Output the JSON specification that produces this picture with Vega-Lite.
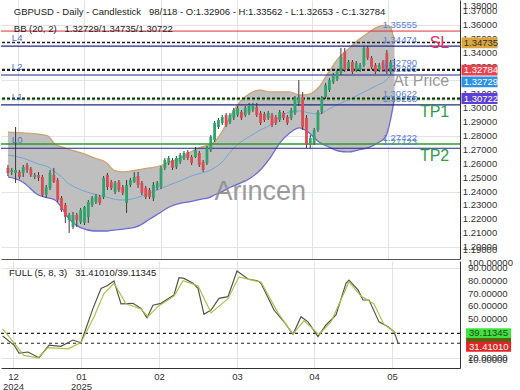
{
  "$schema": "https://vega.github.io/schema/vega-lite/v6.json",
  "padding": 0,
  "background": "white",
  "spacing": 2,
  "bounds": "flush",
  "config": {
    "view": {"stroke": null},
    "font": "Liberation Sans",
    "text": {"font": "Liberation Sans"},
    "axis": {"labelFont": "Liberation Sans", "labelFontSize": 9.5, "labelColor": "#333333", "gridColor": "#e3e3e3", "gridWidth": 1, "domainColor": "#444444", "ticks": false, "title": null}
  },
  "datasets": {
    "candles": [
      {"t":0.5,"o":1.2570,"h":1.2591,"l":1.2512,"c":1.2534},
      {"t":1.5,"o":1.2541,"h":1.2570,"l":1.2519,"c":1.2555},
      {"t":2.5,"o":1.2534,"h":1.2865,"l":1.2462,"c":1.2555},
      {"t":3.5,"o":1.2541,"h":1.2555,"l":1.2490,"c":1.2505},
      {"t":4.5,"o":1.2534,"h":1.2591,"l":1.2505,"c":1.2577},
      {"t":5.5,"o":1.2591,"h":1.2606,"l":1.2534,"c":1.2555},
      {"t":6.5,"o":1.2562,"h":1.2577,"l":1.2505,"c":1.2519},
      {"t":7.5,"o":1.2505,"h":1.2534,"l":1.2490,"c":1.2519},
      {"t":8.5,"o":1.2519,"h":1.2541,"l":1.2476,"c":1.2498},
      {"t":9.5,"o":1.2505,"h":1.2519,"l":1.2361,"c":1.2375},
      {"t":10.5,"o":1.2375,"h":1.2447,"l":1.2354,"c":1.2433},
      {"t":11.5,"o":1.2426,"h":1.2555,"l":1.2411,"c":1.2534},
      {"t":12.5,"o":1.2519,"h":1.2570,"l":1.2462,"c":1.2469},
      {"t":13.5,"o":1.2483,"h":1.2498,"l":1.2325,"c":1.2339},
      {"t":14.5,"o":1.2354,"h":1.2368,"l":1.2253,"c":1.2267},
      {"t":15.5,"o":1.2303,"h":1.2318,"l":1.2174,"c":1.2217},
      {"t":16.5,"o":1.2195,"h":1.2246,"l":1.2102,"c":1.2231},
      {"t":17.5,"o":1.2145,"h":1.2253,"l":1.2130,"c":1.2231},
      {"t":18.5,"o":1.2231,"h":1.2246,"l":1.2145,"c":1.2195},
      {"t":19.5,"o":1.2181,"h":1.2282,"l":1.2166,"c":1.2267},
      {"t":20.5,"o":1.2174,"h":1.2296,"l":1.2159,"c":1.2289},
      {"t":21.5,"o":1.2217,"h":1.2339,"l":1.2174,"c":1.2325},
      {"t":22.5,"o":1.2303,"h":1.2368,"l":1.2289,"c":1.2354},
      {"t":23.5,"o":1.2325,"h":1.2382,"l":1.2310,"c":1.2368},
      {"t":24.5,"o":1.2361,"h":1.2375,"l":1.2303,"c":1.2318},
      {"t":25.5,"o":1.2361,"h":1.2512,"l":1.2346,"c":1.2498},
      {"t":26.5,"o":1.2519,"h":1.2534,"l":1.2411,"c":1.2433},
      {"t":27.5,"o":1.2469,"h":1.2483,"l":1.2411,"c":1.2426},
      {"t":28.5,"o":1.2397,"h":1.2476,"l":1.2382,"c":1.2462},
      {"t":29.5,"o":1.2469,"h":1.2483,"l":1.2397,"c":1.2411},
      {"t":30.5,"o":1.2433,"h":1.2447,"l":1.2375,"c":1.2390},
      {"t":31.5,"o":1.2318,"h":1.2483,"l":1.2246,"c":1.2447},
      {"t":32.5,"o":1.2447,"h":1.2498,"l":1.2433,"c":1.2483},
      {"t":33.5,"o":1.2469,"h":1.2541,"l":1.2462,"c":1.2505},
      {"t":34.5,"o":1.2512,"h":1.2541,"l":1.2426,"c":1.2447},
      {"t":35.5,"o":1.2462,"h":1.2476,"l":1.2375,"c":1.2390},
      {"t":36.5,"o":1.2426,"h":1.2440,"l":1.2346,"c":1.2361},
      {"t":37.5,"o":1.2411,"h":1.2426,"l":1.2346,"c":1.2361},
      {"t":38.5,"o":1.2354,"h":1.2469,"l":1.2332,"c":1.2447},
      {"t":39.5,"o":1.2426,"h":1.2476,"l":1.2411,"c":1.2462},
      {"t":40.5,"o":1.2433,"h":1.2584,"l":1.2418,"c":1.2570},
      {"t":41.5,"o":1.2570,"h":1.2642,"l":1.2555,"c":1.2627},
      {"t":42.5,"o":1.2606,"h":1.2656,"l":1.2591,"c":1.2642},
      {"t":43.5,"o":1.2627,"h":1.2642,"l":1.2555,"c":1.2570},
      {"t":44.5,"o":1.2577,"h":1.2656,"l":1.2562,"c":1.2642},
      {"t":45.5,"o":1.2613,"h":1.2678,"l":1.2598,"c":1.2663},
      {"t":46.5,"o":1.2642,"h":1.2692,"l":1.2627,"c":1.2678},
      {"t":47.5,"o":1.2685,"h":1.2699,"l":1.2627,"c":1.2642},
      {"t":48.5,"o":1.2649,"h":1.2663,"l":1.2591,"c":1.2606},
      {"t":49.5,"o":1.2649,"h":1.2721,"l":1.2642,"c":1.2699},
      {"t":50.5,"o":1.2678,"h":1.2692,"l":1.2577,"c":1.2591},
      {"t":51.5,"o":1.2613,"h":1.2627,"l":1.2541,"c":1.2555},
      {"t":52.5,"o":1.2606,"h":1.2728,"l":1.2591,"c":1.2714},
      {"t":53.5,"o":1.2699,"h":1.2807,"l":1.2685,"c":1.2793},
      {"t":54.5,"o":1.2771,"h":1.2908,"l":1.2757,"c":1.2894},
      {"t":55.5,"o":1.2865,"h":1.2930,"l":1.2850,"c":1.2915},
      {"t":56.5,"o":1.2894,"h":1.2951,"l":1.2879,"c":1.2937},
      {"t":57.5,"o":1.2951,"h":1.2966,"l":1.2865,"c":1.2879},
      {"t":58.5,"o":1.2901,"h":1.2966,"l":1.2886,"c":1.2951},
      {"t":59.5,"o":1.2930,"h":1.3002,"l":1.2915,"c":1.2987},
      {"t":60.5,"o":1.2951,"h":1.3016,"l":1.2937,"c":1.3002},
      {"t":61.5,"o":1.2973,"h":1.2987,"l":1.2915,"c":1.2930},
      {"t":62.5,"o":1.2951,"h":1.3016,"l":1.2937,"c":1.3002},
      {"t":63.5,"o":1.2966,"h":1.3038,"l":1.2951,"c":1.3023},
      {"t":64.5,"o":1.2987,"h":1.3038,"l":1.2973,"c":1.3023},
      {"t":65.5,"o":1.3009,"h":1.3038,"l":1.2937,"c":1.2951},
      {"t":66.5,"o":1.2966,"h":1.2980,"l":1.2879,"c":1.2894},
      {"t":67.5,"o":1.2958,"h":1.2973,"l":1.2901,"c":1.2915},
      {"t":68.5,"o":1.2930,"h":1.2980,"l":1.2915,"c":1.2966},
      {"t":69.5,"o":1.2951,"h":1.2966,"l":1.2865,"c":1.2879},
      {"t":70.5,"o":1.2937,"h":1.2951,"l":1.2879,"c":1.2894},
      {"t":71.5,"o":1.2915,"h":1.2987,"l":1.2901,"c":1.2973},
      {"t":72.5,"o":1.2966,"h":1.2980,"l":1.2915,"c":1.2930},
      {"t":73.5,"o":1.2937,"h":1.2951,"l":1.2879,"c":1.2894},
      {"t":74.5,"o":1.2930,"h":1.3002,"l":1.2915,"c":1.2987},
      {"t":75.5,"o":1.2966,"h":1.3088,"l":1.2951,"c":1.3074},
      {"t":76.5,"o":1.3038,"h":1.3203,"l":1.3016,"c":1.3081},
      {"t":77.5,"o":1.3081,"h":1.3117,"l":1.2843,"c":1.2865},
      {"t":78.5,"o":1.2930,"h":1.2951,"l":1.2714,"c":1.2735},
      {"t":79.5,"o":1.2735,"h":1.2807,"l":1.2714,"c":1.2786},
      {"t":80.5,"o":1.2750,"h":1.2858,"l":1.2735,"c":1.2843},
      {"t":81.5,"o":1.2843,"h":1.2987,"l":1.2829,"c":1.2973},
      {"t":82.5,"o":1.2973,"h":1.3088,"l":1.2958,"c":1.3074},
      {"t":83.5,"o":1.3081,"h":1.3182,"l":1.3066,"c":1.3167},
      {"t":84.5,"o":1.3131,"h":1.3218,"l":1.3117,"c":1.3203},
      {"t":85.5,"o":1.3189,"h":1.3254,"l":1.3174,"c":1.3239},
      {"t":86.5,"o":1.3210,"h":1.3275,"l":1.3196,"c":1.3261},
      {"t":87.5,"o":1.3254,"h":1.3434,"l":1.3239,"c":1.3369},
      {"t":88.5,"o":1.3405,"h":1.3434,"l":1.3261,"c":1.3275},
      {"t":89.5,"o":1.3290,"h":1.3347,"l":1.3275,"c":1.3333},
      {"t":90.5,"o":1.3333,"h":1.3347,"l":1.3246,"c":1.3261},
      {"t":91.5,"o":1.3275,"h":1.3340,"l":1.3261,"c":1.3326},
      {"t":92.5,"o":1.3275,"h":1.3326,"l":1.3261,"c":1.3311},
      {"t":93.5,"o":1.3311,"h":1.3448,"l":1.3297,"c":1.3434},
      {"t":94.5,"o":1.3434,"h":1.3448,"l":1.3347,"c":1.3362},
      {"t":95.5,"o":1.3362,"h":1.3376,"l":1.3282,"c":1.3297},
      {"t":96.5,"o":1.3311,"h":1.3326,"l":1.3246,"c":1.3261},
      {"t":97.5,"o":1.3275,"h":1.3326,"l":1.3261,"c":1.3311},
      {"t":98.5,"o":1.3333,"h":1.3347,"l":1.3261,"c":1.3275},
      {"t":99.5,"o":1.3398,"h":1.3419,"l":1.3246,"c":1.3261},
      {"t":100.5,"o":1.3261,"h":1.3347,"l":1.3246,"c":1.3333},
      {"t":101.5,"o":1.32906,"h":1.33562,"l":1.32653,"c":1.32784}
    ],
    "bb": [
      {"t":0.51,"up":1.2829,"mid":1.2663,"lo":1.2505},
      {"t":4.34,"up":1.2822,"mid":1.2642,"lo":1.2469},
      {"t":8.43,"up":1.2814,"mid":1.2598,"lo":1.2375},
      {"t":10.99,"up":1.2800,"mid":1.2577,"lo":1.2354},
      {"t":12.78,"up":1.2742,"mid":1.2541,"lo":1.2339},
      {"t":14.57,"up":1.2721,"mid":1.2505,"lo":1.2282},
      {"t":16.1,"up":1.2706,"mid":1.2462,"lo":1.2217},
      {"t":17.89,"up":1.2692,"mid":1.2433,"lo":1.2166},
      {"t":19.68,"up":1.2678,"mid":1.2411,"lo":1.2138},
      {"t":23.0,"up":1.2642,"mid":1.2382,"lo":1.2116},
      {"t":26.32,"up":1.2606,"mid":1.2361,"lo":1.2116},
      {"t":28.11,"up":1.2555,"mid":1.2346,"lo":1.2123},
      {"t":30.67,"up":1.2541,"mid":1.2339,"lo":1.2130},
      {"t":33.99,"up":1.2555,"mid":1.2354,"lo":1.2145},
      {"t":37.57,"up":1.2570,"mid":1.2390,"lo":1.2202},
      {"t":40.12,"up":1.2584,"mid":1.2418,"lo":1.2246},
      {"t":42.68,"up":1.2613,"mid":1.2447,"lo":1.2289},
      {"t":46.0,"up":1.2649,"mid":1.2483,"lo":1.2318},
      {"t":47.79,"up":1.2678,"mid":1.2505,"lo":1.2325},
      {"t":51.11,"up":1.2721,"mid":1.2534,"lo":1.2346},
      {"t":52.9,"up":1.2735,"mid":1.2548,"lo":1.2354},
      {"t":54.43,"up":1.2757,"mid":1.2570,"lo":1.2375},
      {"t":56.22,"up":1.2822,"mid":1.2606,"lo":1.2397},
      {"t":58.78,"up":1.2951,"mid":1.2692,"lo":1.2433},
      {"t":61.33,"up":1.3052,"mid":1.2757,"lo":1.2462},
      {"t":63.89,"up":1.3110,"mid":1.2800,"lo":1.2498},
      {"t":66.45,"up":1.3131,"mid":1.2843,"lo":1.2555},
      {"t":69.0,"up":1.3117,"mid":1.2879,"lo":1.2642},
      {"t":71.56,"up":1.3117,"mid":1.2937,"lo":1.2750},
      {"t":74.11,"up":1.3117,"mid":1.2973,"lo":1.2822},
      {"t":76.67,"up":1.3095,"mid":1.2980,"lo":1.2858},
      {"t":79.22,"up":1.3102,"mid":1.2966,"lo":1.2822},
      {"t":81.78,"up":1.3153,"mid":1.2958,"lo":1.2757},
      {"t":84.33,"up":1.3261,"mid":1.2994,"lo":1.2721},
      {"t":86.89,"up":1.3362,"mid":1.3030,"lo":1.2692},
      {"t":89.45,"up":1.3426,"mid":1.3059,"lo":1.2685},
      {"t":92.0,"up":1.3491,"mid":1.3095,"lo":1.2699},
      {"t":94.56,"up":1.3542,"mid":1.3131,"lo":1.2714},
      {"t":97.11,"up":1.3585,"mid":1.3167,"lo":1.2750},
      {"t":99.16,"up":1.3599,"mid":1.3196,"lo":1.2793},
      {"t":100.43,"up":1.3585,"mid":1.3239,"lo":1.2915},
      {"t":101.5,"up":1.34735,"mid":1.32729,"lo":1.30722}
    ],
    "levels": [
      {"name":"SL","price":1.35555,"kind":"sl"},
      {"name":"BB upper","price":1.34735,"kind":"ref"},
      {"name":"L4","price":1.34474,"kind":"level"},
      {"name":"At Price","price":1.3279,"kind":"entry"},
      {"name":"BB middle","price":1.32729,"kind":"ref"},
      {"name":"L2","price":1.32395,"kind":"level"},
      {"name":"BB lower","price":1.30722,"kind":"ref"},
      {"name":"TP1","price":1.30622,"kind":"tpd"},
      {"name":"L1","price":1.30238,"kind":"level"},
      {"name":"TP2","price":1.27422,"kind":"tp"},
      {"name":"L0","price":1.27123,"kind":"level"}
    ],
    "priceTicks": [
      {"v":1.20},{"v":1.21},{"v":1.22},{"v":1.23},{"v":1.24},{"v":1.25},{"v":1.26},{"v":1.27},{"v":1.28},{"v":1.29},
      {"v":1.30},{"v":1.31},{"v":1.32},{"v":1.33},{"v":1.34},{"v":1.35},{"v":1.36},{"v":1.37}
    ],
    "priceEdge": [{"v":1.38,"pos":1.3739},{"v":1.19,"pos":1.1979}],
    "tags": [
      {"label":"1.34735","pos":1.3470,"kind":"up"},
      {"label":"1.32784","pos":1.3275,"kind":"close"},
      {"label":"1.32729","pos":1.3189,"kind":"mid"},
      {"label":"1.30722","pos":1.3070,"kind":"lo"}
    ],
    "stoch": [
      {"t":0.43,"v":37,"s":"K"},{"t":3.32,"v":30,"s":"K"},{"t":4.6,"v":23.8,"s":"K"},{"t":6.9,"v":24.6,"s":"K"},{"t":9.71,"v":20.2,"s":"K"},{"t":12.27,"v":30,"s":"K"},{"t":15.33,"v":29,"s":"K"},{"t":18.4,"v":33.9,"s":"K"},{"t":20.44,"v":31.8,"s":"K"},{"t":23.51,"v":58.5,"s":"K"},{"t":25.56,"v":74,"s":"K"},{"t":27.09,"v":76,"s":"K"},{"t":28.88,"v":79.8,"s":"K"},{"t":30.67,"v":62,"s":"K"},{"t":33.73,"v":62.4,"s":"K"},{"t":35.78,"v":58.5,"s":"K"},{"t":37.31,"v":51.2,"s":"K"},{"t":38.84,"v":61,"s":"K"},{"t":40.89,"v":62.4,"s":"K"},{"t":44.21,"v":68.9,"s":"K"},{"t":45.49,"v":82.3,"s":"K"},{"t":46.77,"v":81.8,"s":"K"},{"t":49.07,"v":78,"s":"K"},{"t":50.34,"v":74,"s":"K"},{"t":51.88,"v":53.9,"s":"K"},{"t":53.67,"v":57.2,"s":"K"},{"t":55.71,"v":66.3,"s":"K"},{"t":58.01,"v":67.6,"s":"K"},{"t":60.31,"v":87.5,"s":"K"},{"t":63.12,"v":81.3,"s":"K"},{"t":65.68,"v":79.8,"s":"K"},{"t":66.45,"v":78,"s":"K"},{"t":69.77,"v":57.2,"s":"K"},{"t":72.32,"v":48.1,"s":"K"},{"t":74.62,"v":38.3,"s":"K"},{"t":76.67,"v":52,"s":"K"},{"t":78.46,"v":48,"s":"K"},{"t":81.01,"v":36.5,"s":"K"},{"t":83.06,"v":45.6,"s":"K"},{"t":85.61,"v":53.4,"s":"K"},{"t":88.17,"v":78,"s":"K"},{"t":88.93,"v":80.5,"s":"K"},{"t":91.23,"v":72.8,"s":"K"},{"t":92.51,"v":65,"s":"K"},{"t":94.05,"v":65,"s":"K"},{"t":96.6,"v":48,"s":"K"},{"t":98.9,"v":44.3,"s":"K"},{"t":100.43,"v":40.4,"s":"K"},{"t":101.5,"v":31.4101,"s":"K"},
      {"t":0.43,"v":42.5,"s":"D"},{"t":5.88,"v":22,"s":"D"},{"t":9.46,"v":20,"s":"D"},{"t":12.01,"v":28,"s":"D"},{"t":17.12,"v":27,"s":"D"},{"t":20.44,"v":32,"s":"D"},{"t":23.77,"v":52,"s":"D"},{"t":26.32,"v":70,"s":"D"},{"t":28.88,"v":78,"s":"D"},{"t":31.94,"v":62,"s":"D"},{"t":35.78,"v":58,"s":"D"},{"t":37.57,"v":52,"s":"D"},{"t":40.12,"v":60,"s":"D"},{"t":44.21,"v":68,"s":"D"},{"t":46.51,"v":80,"s":"D"},{"t":50.34,"v":76,"s":"D"},{"t":53.67,"v":55,"s":"D"},{"t":58.01,"v":66,"s":"D"},{"t":60.82,"v":83,"s":"D"},{"t":64.66,"v":80,"s":"D"},{"t":66.45,"v":79,"s":"D"},{"t":70.79,"v":55,"s":"D"},{"t":74.62,"v":38.5,"s":"D"},{"t":77.43,"v":49,"s":"D"},{"t":81.27,"v":38,"s":"D"},{"t":84.33,"v":48,"s":"D"},{"t":88.93,"v":79,"s":"D"},{"t":92.0,"v":68,"s":"D"},{"t":95.32,"v":62,"s":"D"},{"t":97.88,"v":46,"s":"D"},{"t":101.0,"v":39.11345,"s":"D"}
    ],
    "stochTicks": [{"v":20},{"v":30},{"v":40},{"v":50},{"v":60},{"v":70},{"v":80},{"v":90}],
    "stochEdge": [{"v":100,"pos":93.6},{"v":10,"pos":18.6}],
    "stochRefs": [{"v":39.11345},{"v":31.4101}],
    "stochTags": [
      {"label":"","pos":34,"kind":"x"},
      {"label":"39.11345","pos":39.3,"kind":"d"},
      {"label":"31.41010","pos":28.6,"kind":"k"}
    ]
  },
  "vconcat": [
    {
      "width": 459,
      "height": 259,
      "resolve": {"scale": {"color": "independent", "strokeDash": "independent", "strokeWidth": "independent"}},
      "layer": [
        {
          "data": {"name": "bb"},
          "mark": {"type": "area", "interpolate": "monotone", "color": "#bfbfbf", "opacity": 1},
          "encoding": {
            "x": {"field": "t", "type": "quantitative", "scale": {"domain": [0, 117.3], "nice": false, "zero": false},
                  "axis": {"values": [3.07, 20.44, 40.38, 60.31, 79.99, 99.92], "labels": false, "grid": true, "domain": true, "domainColor": "#555555"}},
            "y": {"field": "up", "type": "quantitative", "scale": {"domain": [1.19144, 1.37792], "nice": false, "zero": false},
                  "axis": {"orient": "right", "values": [1.20, 1.21, 1.22, 1.23, 1.24, 1.25, 1.26, 1.27, 1.28, 1.29, 1.30, 1.31, 1.32, 1.33, 1.34, 1.35, 1.36, 1.37], "labels": false, "grid": true, "domainColor": "#333333"}},
            "y2": {"field": "lo"}
          }
        },
        {
          "data": {"name": "bb"},
          "mark": {"type": "line", "interpolate": "monotone", "color": "#74a6d6", "strokeWidth": 1},
          "encoding": {"x": {"field": "t", "type": "quantitative"}, "y": {"field": "mid", "type": "quantitative"}}
        },
        {
          "data": {"name": "bb"},
          "mark": {"type": "line", "interpolate": "monotone", "color": "#cfa26c", "strokeWidth": 1.3},
          "encoding": {"x": {"field": "t", "type": "quantitative"}, "y": {"field": "up", "type": "quantitative"}}
        },
        {
          "data": {"name": "bb"},
          "mark": {"type": "line", "interpolate": "monotone", "color": "#6a6ad8", "strokeWidth": 1.3},
          "encoding": {"x": {"field": "t", "type": "quantitative"}, "y": {"field": "lo", "type": "quantitative"}}
        },
        {
          "data": {"name": "levels"},
          "mark": {"type": "rule"},
          "encoding": {
            "y": {"field": "price", "type": "quantitative"},
            "color": {"field": "kind", "type": "nominal", "legend": null, "scale": {"domain": ["sl", "level", "entry", "tpd", "tp", "ref"], "range": ["#e0303a", "#25288a", "#222222", "#2f9a2f", "#2f9a2f", "#222222"]}},
            "strokeDash": {"field": "kind", "type": "nominal", "legend": null, "scale": {"domain": ["sl", "level", "entry", "tpd", "tp", "ref"], "range": [[1, 0], [1, 0], [3, 2], [3, 2], [1, 0], [3, 2]]}},
            "strokeWidth": {"field": "kind", "type": "nominal", "legend": null, "scale": {"domain": ["sl", "level", "entry", "tpd", "tp", "ref"], "range": [1, 1.5, 1.5, 1.5, 1.5, 1.3]}}
          }
        },
        {
          "data": {"name": "candles"},
          "mark": {"type": "rule", "color": "#3a3a3a", "strokeWidth": 1},
          "encoding": {"x": {"field": "t", "type": "quantitative"}, "y": {"field": "l", "type": "quantitative"}, "y2": {"field": "h"}}
        },
        {
          "data": {"name": "candles"},
          "mark": {"type": "bar", "width": 2.8},
          "encoding": {
            "x": {"field": "t", "type": "quantitative"},
            "y": {"field": "o", "type": "quantitative"},
            "y2": {"field": "c"},
            "color": {"condition": {"test": "datum.c >= datum.o", "value": "#2fa36b"}, "value": "#dc4a52"}
          }
        },
        {
          "data": {"name": "levels"},
          "transform": [{"filter": "datum.kind != 'ref'"}],
          "mark": {"type": "text", "align": "left", "baseline": "bottom", "dy": -1, "fontSize": 9.5, "color": "#5a7fd8"},
          "encoding": {"x": {"datum": 98.4, "type": "quantitative"}, "y": {"field": "price", "type": "quantitative"}, "text": {"field": "price", "type": "quantitative", "format": ".5f"}}
        },
        {
          "data": {"name": "levels"},
          "transform": [{"filter": "indexof(datum.name, 'L') == 0"}],
          "mark": {"type": "text", "align": "left", "baseline": "bottom", "dy": -3, "fontSize": 9.5, "color": "#4d6fd1"},
          "encoding": {"x": {"datum": 1.53, "type": "quantitative"}, "y": {"field": "price", "type": "quantitative"}, "text": {"field": "name"}}
        },
        {
          "data": {"name": "levels"},
          "transform": [{"filter": "datum.kind == 'sl' || datum.kind == 'entry' || datum.kind == 'tpd' || datum.kind == 'tp'"}],
          "mark": {"type": "text", "align": "right", "baseline": "top", "dy": 4, "fontSize": 16},
          "encoding": {
            "x": {"datum": 115.8, "type": "quantitative"},
            "y": {"field": "price", "type": "quantitative"},
            "text": {"field": "name"},
            "color": {"field": "kind", "type": "nominal", "legend": null, "scale": {"domain": ["sl", "entry", "tpd", "tp"], "range": ["#e3306b", "#9a9a9a", "#2e9e3e", "#2e9e3e"]}}
          }
        },
        {
          "data": {"values": [{"label": "Arincen"}]},
          "mark": {"type": "text", "align": "center", "baseline": "middle", "fontSize": 27, "color": "#8a8a8a", "opacity": 0.85},
          "encoding": {"x": {"datum": 66.4, "type": "quantitative"}, "y": {"datum": 1.2397, "type": "quantitative"}, "text": {"field": "label"}}
        },
        {
          "data": {"values": [{"label": "GBPUSD - Daily - Candlestick\u00a0\u00a0\u00a098/118 - O:1.32906 - H:1.33562 - L:1.32653 - C:1.32784"}]},
          "mark": {"type": "text", "align": "left", "baseline": "middle", "fontSize": 9.5, "color": "#222222"},
          "encoding": {"x": {"datum": 2.04, "type": "quantitative"}, "y": {"datum": 1.3693, "type": "quantitative"}, "text": {"field": "label"}}
        },
        {
          "data": {"values": [{"label": "BB (20, 2)\u00a0\u00a0\u00a01.32729/1.34735/1.30722"}]},
          "mark": {"type": "text", "align": "left", "baseline": "middle", "fontSize": 9.5, "color": "#222222"},
          "encoding": {"x": {"datum": 2.04, "type": "quantitative"}, "y": {"datum": 1.3570, "type": "quantitative"}, "text": {"field": "label"}}
        },
        {
          "data": {"name": "priceTicks"},
          "mark": {"type": "text", "align": "left", "baseline": "middle", "fontSize": 9.5, "color": "#333333"},
          "encoding": {"x": {"datum": 119.35, "type": "quantitative"}, "y": {"field": "v", "type": "quantitative"}, "text": {"field": "v", "type": "quantitative", "format": ".5f"}}
        },
        {
          "data": {"name": "priceEdge"},
          "mark": {"type": "text", "align": "left", "baseline": "middle", "fontSize": 9.5, "color": "#333333"},
          "encoding": {"x": {"datum": 119.35, "type": "quantitative"}, "y": {"field": "pos", "type": "quantitative"}, "text": {"field": "v", "type": "quantitative", "format": ".5f"}}
        },
        {
          "data": {"name": "tags"},
          "mark": {"type": "point", "shape": "M-1,-0.3H1V0.3H-1Z", "size": 1296, "filled": true, "opacity": 1, "strokeWidth": 0},
          "encoding": {
            "x": {"datum": 123.7, "type": "quantitative"},
            "y": {"field": "pos", "type": "quantitative"},
            "color": {"field": "kind", "type": "nominal", "legend": null, "scale": {"domain": ["up", "close", "mid", "lo"], "range": ["#dba63c", "#e8434c", "#2f90e8", "#5d40d8"]}}
          }
        },
        {
          "data": {"name": "tags"},
          "mark": {"type": "text", "align": "left", "baseline": "middle", "fontSize": 9.5},
          "encoding": {
            "x": {"datum": 119.6, "type": "quantitative"},
            "y": {"field": "pos", "type": "quantitative"},
            "text": {"field": "label"},
            "color": {"condition": {"test": "datum.kind == 'up'", "value": "#333333"}, "value": "#ffffff"}
          }
        }
      ]
    },
    {
      "width": 459,
      "height": 107,
      "resolve": {"scale": {"color": "independent"}},
      "layer": [
        {
          "data": {"name": "stochRefs"},
          "mark": {"type": "rule", "color": "#222222", "strokeDash": [3, 3], "strokeWidth": 1.2},
          "encoding": {
            "y": {"field": "v", "type": "quantitative", "scale": {"domain": [12.17, 95.3], "nice": false, "zero": false},
                  "axis": {"orient": "right", "values": [20, 30, 40, 50, 60, 70, 80, 90], "labels": false, "grid": true, "domainColor": "#333333"}}
          }
        },
        {
          "data": {"name": "stoch"},
          "mark": {"type": "line", "strokeWidth": 1.2},
          "encoding": {
            "x": {"field": "t", "type": "quantitative", "scale": {"domain": [0, 117.3], "nice": false, "zero": false},
                  "axis": {"values": [3.07, 20.44, 40.38, 60.31, 79.99, 99.92], "grid": true, "domain": true, "domainColor": "#333333", "labelPadding": 3, "labelLineHeight": 10, "labelOverlap": false,
                           "labelExpr": "datum.value < 10 ? ['12', '2024'] : datum.value < 30 ? ['01', '2025'] : datum.value < 50 ? '02' : datum.value < 70 ? '03' : datum.value < 90 ? '04' : '05'"}},
            "y": {"field": "v", "type": "quantitative"},
            "color": {"field": "s", "type": "nominal", "legend": null, "scale": {"domain": ["K", "D"], "range": ["#5a5247", "#a8c24c"]}}
          }
        },
        {
          "data": {"values": [{"label": "FULL (5, 8, 3)\u00a0\u00a0\u00a031.41010/39.11345"}]},
          "mark": {"type": "text", "align": "left", "baseline": "middle", "fontSize": 9.5, "color": "#222222"},
          "encoding": {"x": {"datum": 2.04, "type": "quantitative"}, "y": {"datum": 86.0, "type": "quantitative"}, "text": {"field": "label"}}
        },
        {
          "data": {"name": "stochTicks"},
          "mark": {"type": "text", "align": "left", "baseline": "middle", "fontSize": 9.5, "color": "#333333"},
          "encoding": {"x": {"datum": 119.35, "type": "quantitative"}, "y": {"field": "v", "type": "quantitative"}, "text": {"field": "v", "type": "quantitative", "format": ".5f"}}
        },
        {
          "data": {"name": "stochEdge"},
          "mark": {"type": "text", "align": "left", "baseline": "middle", "fontSize": 9.5, "color": "#333333"},
          "encoding": {"x": {"datum": 119.35, "type": "quantitative"}, "y": {"field": "pos", "type": "quantitative"}, "text": {"field": "v", "type": "quantitative", "format": ".5f"}}
        },
        {
          "data": {"name": "stochTags"},
          "mark": {"type": "point", "shape": "M-1,-0.22H1V0.22H-1Z", "size": 2025, "filled": true, "opacity": 1, "strokeWidth": 0},
          "encoding": {
            "x": {"datum": 124.6, "type": "quantitative"},
            "y": {"field": "pos", "type": "quantitative"},
            "color": {"field": "kind", "type": "nominal", "legend": null, "scale": {"domain": ["x", "d", "k"], "range": ["#5f5f14", "#3fe23f", "#e42525"]}}
          }
        },
        {
          "data": {"name": "stochTags"},
          "mark": {"type": "text", "align": "left", "baseline": "middle", "fontSize": 9.5},
          "encoding": {
            "x": {"datum": 119.6, "type": "quantitative"},
            "y": {"field": "pos", "type": "quantitative"},
            "text": {"field": "label"},
            "color": {"condition": {"test": "datum.kind == 'd'", "value": "#1e4a12"}, "value": "#ffffff"}
          }
        }
      ]
    }
  ]
}
